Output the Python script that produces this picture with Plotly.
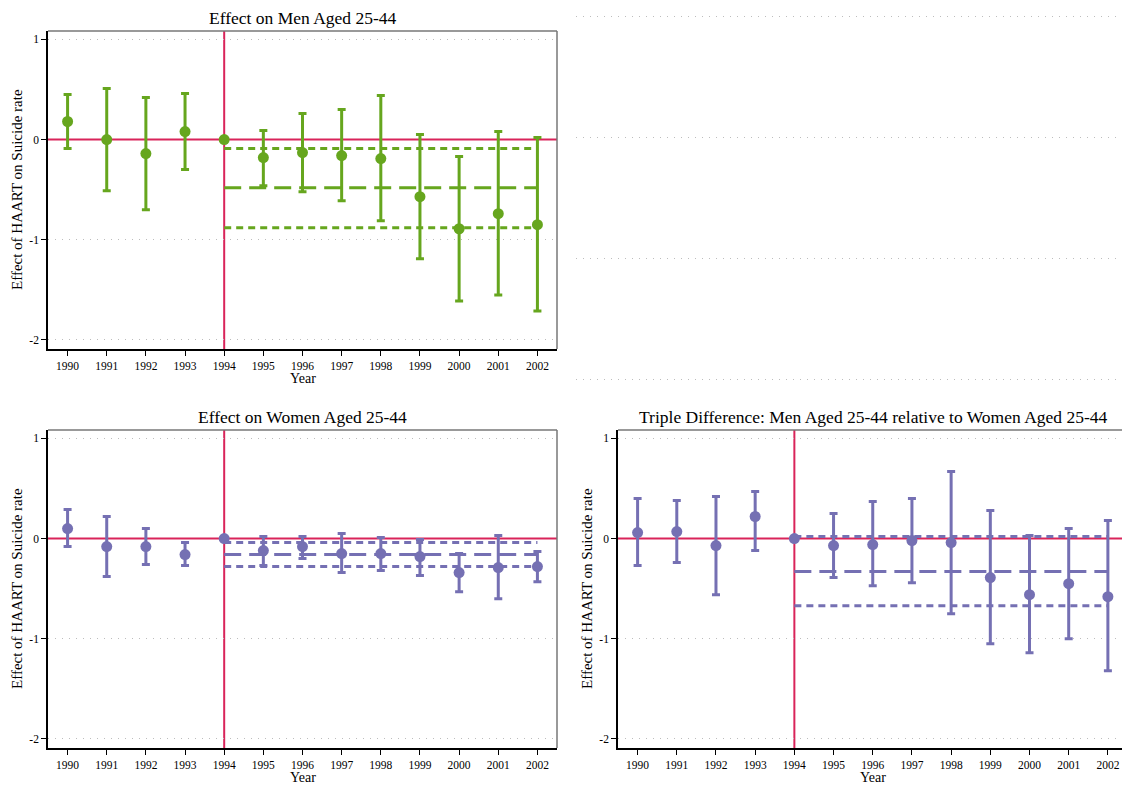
import plotly.graph_objects as go

# ---- data -------------------------------------------------------------
YEARS = list(range(1990, 2003))
YEAR_LABELS = [str(y) for y in YEARS]
Y_TICKS = [1, 0, -1, -2]
Y_TICK_LABELS = ["1", "0", "-1", "-2"]
GRID_VALUES = [1, -1, -2]  # the zero line is drawn separately in red
BASE_YEAR = 1994
LAST_YEAR = 2002

men_est = [0.18, 0.00, -0.14, 0.08, 0.00, -0.18, -0.13, -0.16, -0.19, -0.57, -0.89, -0.74, -0.85]
men_lo = [-0.09, -0.51, -0.70, -0.30, 0.00, -0.46, -0.52, -0.61, -0.81, -1.19, -1.61, -1.55, -1.71]
men_hi = [0.45, 0.51, 0.42, 0.46, 0.00, 0.09, 0.26, 0.30, 0.44, 0.05, -0.17, 0.08, 0.02]
men_pooled = [-0.88, -0.48, -0.09]  # lower CI, estimate, upper CI

women_est = [0.10, -0.08, -0.08, -0.16, 0.00, -0.12, -0.08, -0.15, -0.15, -0.18, -0.34, -0.29, -0.28]
women_lo = [-0.08, -0.38, -0.26, -0.27, 0.00, -0.27, -0.20, -0.34, -0.32, -0.37, -0.53, -0.60, -0.43]
women_hi = [0.29, 0.22, 0.10, -0.04, 0.00, 0.02, 0.02, 0.05, 0.01, -0.01, -0.15, 0.03, -0.13]
women_pooled = [-0.28, -0.16, -0.04]

triple_est = [0.06, 0.07, -0.07, 0.22, 0.00, -0.07, -0.06, -0.02, -0.04, -0.39, -0.56, -0.45, -0.58]
triple_lo = [-0.27, -0.24, -0.56, -0.12, 0.00, -0.39, -0.47, -0.44, -0.75, -1.05, -1.14, -1.00, -1.32]
triple_hi = [0.40, 0.38, 0.42, 0.47, 0.00, 0.25, 0.37, 0.40, 0.67, 0.28, 0.03, 0.10, 0.18]
triple_pooled = [-0.67, -0.33, 0.02]

# ---- style ------------------------------------------------------------
GREEN = "#66a61e"
PURPLE = "#7570b3"
RED = "#d9245a"
GRID = "#bdbdbd"
FONT = "Liberation Serif"
W, H = 1122, 789


def dom_x(left, right):
    return [left / W, right / W]


def dom_y(top, bottom):
    return [1 - bottom / H, 1 - top / H]


panels = [
    dict(ax="", title="Effect on Men Aged 25-44", est=men_est, lo=men_lo, hi=men_hi,
         pooled=men_pooled, color=GREEN, x=(48, 557), y=(31, 349), xr=[1989.5, 2002.5],
         full_box=True),
    dict(ax="2", title="Effect on Women Aged 25-44", est=women_est, lo=women_lo, hi=women_hi,
         pooled=women_pooled, color=PURPLE, x=(48, 557), y=(430, 748), xr=[1989.5, 2002.5],
         full_box=True),
    dict(ax="3", title="Triple Difference: Men Aged 25-44 relative to Women Aged 25-44",
         est=triple_est, lo=triple_lo, hi=triple_hi, pooled=triple_pooled, color=PURPLE,
         x=(618, 1122), y=(430, 748), xr=[1989.5, 2002.36], full_box=False),
]

fig = go.Figure()
shapes = []
annotations = []
layout_axes = {}

for p in panels:
    xa, ya = "x" + p["ax"], "y" + p["ax"]
    c = p["color"]
    lo_ci, est, hi_ci = p["pooled"]

    # pooled post-period estimate and its confidence band
    for val, dash in ((hi_ci, "7px,5px"), (est, "17px,8px"), (lo_ci, "7px,5px")):
        fig.add_trace(go.Scatter(
            x=[BASE_YEAR, LAST_YEAR], y=[val, val], mode="lines",
            line=dict(color=c, width=3, dash=dash),
            xaxis=xa, yaxis=ya, showlegend=False, hoverinfo="skip"))

    # yearly estimates with confidence intervals
    fig.add_trace(go.Scatter(
        x=YEARS, y=p["est"], mode="markers",
        marker=dict(color=c, size=11),
        error_y=dict(type="data", symmetric=False,
                     array=[h - e for h, e in zip(p["hi"], p["est"])],
                     arrayminus=[e - l for e, l in zip(p["est"], p["lo"])],
                     color=c, thickness=3, width=4),
        xaxis=xa, yaxis=ya, showlegend=False))

    xkey = "xaxis" + p["ax"]
    ykey = "yaxis" + p["ax"]
    layout_axes[xkey] = dict(
        domain=dom_x(*p["x"]), range=p["xr"], anchor=ya,
        tickvals=YEARS, ticktext=YEAR_LABELS, ticks="outside", ticklen=5,
        tickwidth=1, tickcolor="#000", showline=True, linecolor="#000", linewidth=1.5,
        showgrid=False, zeroline=False,
        tickfont=dict(family=FONT, size=11.5, color="#000"))
    layout_axes[ykey] = dict(
        domain=dom_y(*p["y"]), range=[-2.09, 1.083], anchor=xa,
        tickvals=Y_TICKS, ticktext=Y_TICK_LABELS, ticks="outside", ticklen=5,
        tickwidth=1, tickcolor="#000", showline=True, linecolor="#000", linewidth=1.5,
        showgrid=False, zeroline=False,
        minor=dict(tickvals=GRID_VALUES, showgrid=True, gridcolor=GRID, gridwidth=1,
                   griddash="1px,6px", ticks=""),
        tickfont=dict(family=FONT, size=11.5, color="#000"))

    # reference lines: zero effect and treatment year
    shapes.append(dict(type="line", xref=xa + " domain", yref=ya, x0=0, x1=1, y0=0, y1=0,
                       line=dict(color=RED, width=2), layer="below"))
    shapes.append(dict(type="line", xref=xa, yref=ya + " domain", x0=BASE_YEAR, x1=BASE_YEAR,
                       y0=0, y1=1, line=dict(color=RED, width=2), layer="below"))

    # frame on top (and right where the panel is complete)
    shapes.append(dict(type="line", xref=xa + " domain", yref=ya + " domain",
                       x0=0, x1=1, y0=1, y1=1, line=dict(color="#777", width=1.5)))
    if p["full_box"]:
        shapes.append(dict(type="line", xref=xa + " domain", yref=ya + " domain",
                           x0=1, x1=1, y0=0, y1=1, line=dict(color="#777", width=1.5)))

    # titles
    xl, xr_px = p["x"]
    yt, yb = p["y"]
    cx = (xl + (xr_px if p["full_box"] else 1127)) / 2
    annotations.append(dict(text=p["title"], x=cx / W, y=1 - (yt - 13) / H,
                            xref="paper", yref="paper", showarrow=False,
                            xanchor="center", yanchor="middle",
                            font=dict(family=FONT, size=17.5, color="#000")))
    annotations.append(dict(text="Year", x=cx / W, y=1 - (yb + 29) / H,
                            xref="paper", yref="paper", showarrow=False,
                            xanchor="center", yanchor="middle",
                            font=dict(family=FONT, size=14, color="#000")))
    annotations.append(dict(text="Effect of HAART on Suicide rate", x=(xl - 31) / W,
                            y=1 - ((yt + yb) / 2) / H, xref="paper", yref="paper",
                            showarrow=False, textangle=-90,
                            xanchor="center", yanchor="middle",
                            font=dict(family=FONT, size=15, color="#000")))

# empty fourth cell: gridlines only
fig.add_trace(go.Scatter(x=[], y=[], xaxis="x4", yaxis="y4", showlegend=False))
layout_axes["xaxis4"] = dict(domain=dom_x(576, 1122), range=[0, 1], anchor="y4",
                             showgrid=False, showline=False, zeroline=False,
                             showticklabels=False, ticks="")
layout_axes["yaxis4"] = dict(domain=dom_y(0, 395), range=[-2.13, 1.138], anchor="x4",
                             tickvals=Y_TICKS, showticklabels=False, ticks="",
                             showline=False, zeroline=False, showgrid=True,
                             gridcolor=GRID, gridwidth=1, griddash="1px,6px")

fig.update_layout(
    width=W, height=H,
    margin=dict(l=0, r=0, t=0, b=0),
    paper_bgcolor="white", plot_bgcolor="white",
    shapes=shapes, annotations=annotations,
    **layout_axes,
)

fig.write_html("out.html")
